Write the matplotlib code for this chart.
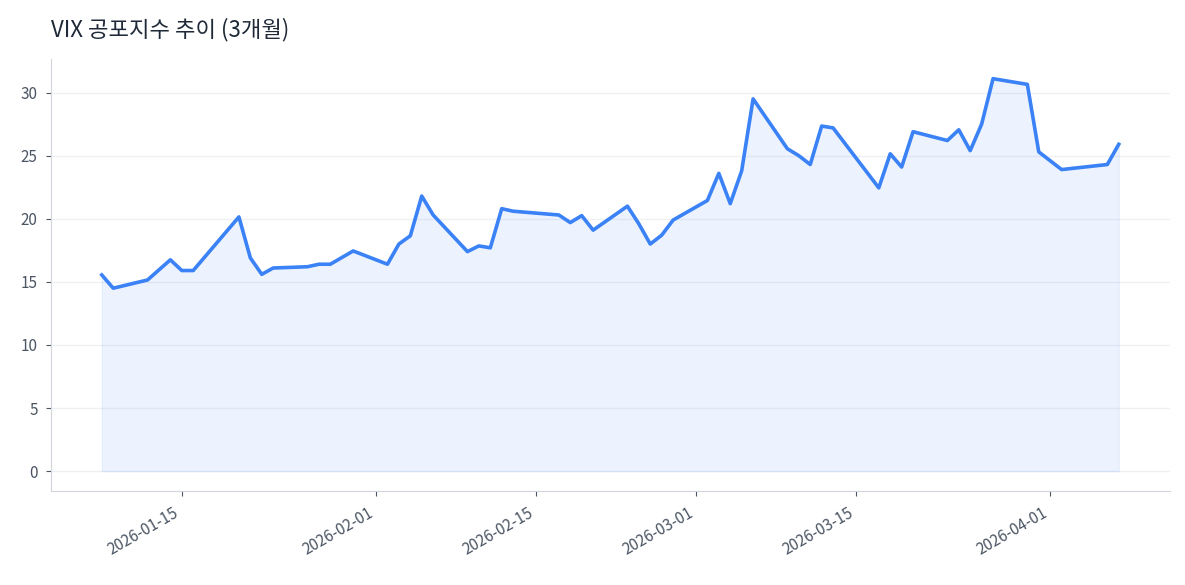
import numpy as np
import pandas as pd
import matplotlib
matplotlib.use('Agg')
import matplotlib.pyplot as plt
import matplotlib.dates as mdates

plt.rcParams['font.family'] = ['Noto Sans CJK KR', 'DejaVu Sans']

dates = ['2026-01-08','2026-01-09','2026-01-12','2026-01-14','2026-01-15','2026-01-16',
         '2026-01-20','2026-01-21','2026-01-22','2026-01-23','2026-01-26','2026-01-27',
         '2026-01-28','2026-01-30','2026-02-02','2026-02-03','2026-02-04','2026-02-05',
         '2026-02-06','2026-02-09','2026-02-10','2026-02-11','2026-02-12','2026-02-13',
         '2026-02-17','2026-02-18','2026-02-19','2026-02-20','2026-02-23','2026-02-24',
         '2026-02-25','2026-02-26','2026-02-27','2026-03-02','2026-03-03','2026-03-04',
         '2026-03-05','2026-03-06','2026-03-09','2026-03-10','2026-03-11','2026-03-12',
         '2026-03-13','2026-03-17','2026-03-18','2026-03-19','2026-03-20','2026-03-23',
         '2026-03-24','2026-03-25','2026-03-26','2026-03-27','2026-03-30','2026-03-31',
         '2026-04-02','2026-04-06','2026-04-07']
vix = [15.55, 14.5, 15.15, 16.75, 15.9, 15.9,
       20.15, 16.9, 15.6, 16.1, 16.2, 16.4,
       16.4, 17.45, 16.4, 18.0, 18.65, 21.8,
       20.3, 17.4, 17.85, 17.7, 20.8, 20.6,
       20.3, 19.7, 20.25, 19.1, 21.0, 19.6,
       18.0, 18.7, 19.9, 21.45, 23.6, 21.2,
       23.8, 29.5, 25.55, 25.0, 24.3, 27.35,
       27.2, 22.45, 25.15, 24.1, 26.9, 26.2,
       27.05, 25.4, 27.5, 31.1, 30.65, 25.3,
       23.9, 24.3, 25.9]

x = pd.to_datetime(dates)
y = np.array(vix)

fig, ax = plt.subplots(figsize=(11.85, 5.85), dpi=100)
ax.plot(x, y, color='#3b82f6', linewidth=2.6)
ax.fill_between(x, y, 0, color='#3b82f6', alpha=0.09)

ax.set_title('VIX 공포지수 추이 (3개월)', loc='left', fontsize=16, color='#1f2937', pad=16)
ax.grid(axis='y', color='#e5e7eb', alpha=0.6, linewidth=1)
ax.set_axisbelow(True)
ax.spines[['right', 'top']].set_visible(False)
ax.spines[['bottom', 'left']].set_color('#d1d5db')
ax.tick_params(colors='#4b5563', labelsize=11, pad=6)
ax.set_yticks([0, 5, 10, 15, 20, 25, 30])
ax.set_ylim(-1.6, 32.7)
ax.xaxis.set_major_locator(mdates.DayLocator(bymonthday=[1, 15]))
ax.xaxis.set_major_formatter(mdates.DateFormatter('%Y-%m-%d'))
plt.setp(ax.get_xticklabels(), rotation=30, ha='right')

plt.subplots_adjust(left=0.043, right=0.987, top=0.9, bottom=0.16)
plt.savefig('out.png')
